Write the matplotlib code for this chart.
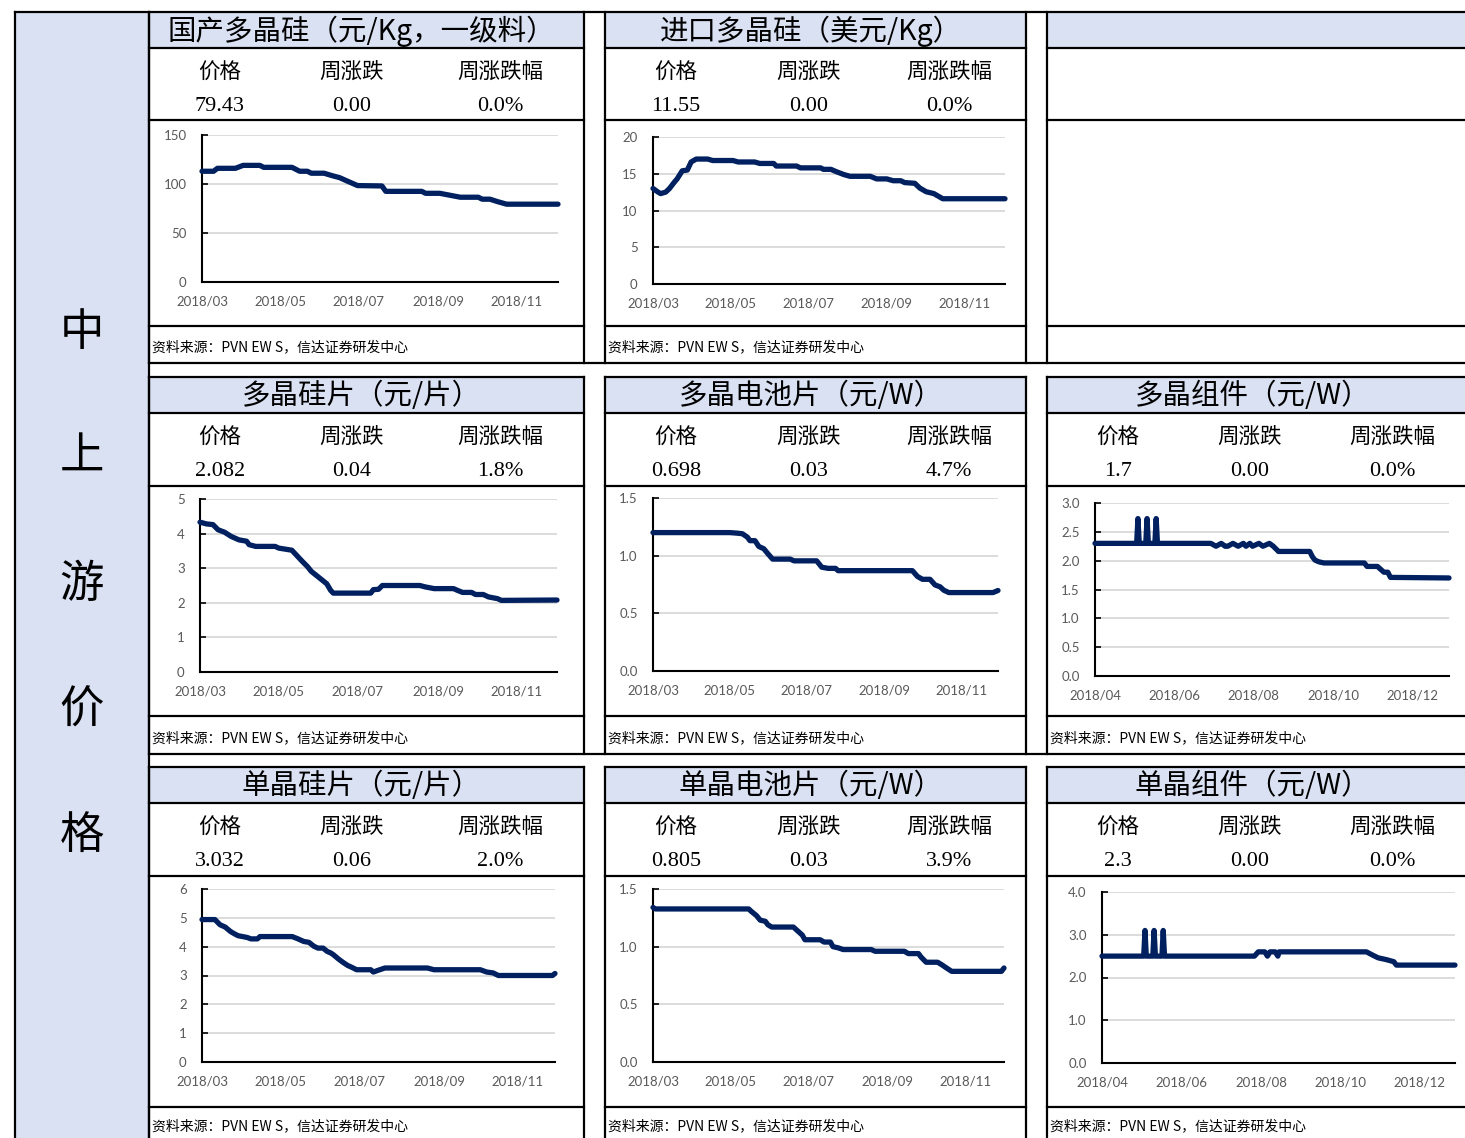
import matplotlib
matplotlib.use('Agg')
import matplotlib.pyplot as plt
import pandas as pd
from matplotlib.patches import Rectangle

plt.rcParams['font.family'] = ['Noto Sans CJK SC', 'DejaVu Sans']

# ---------------- data ----------------
side_chars = ['中', '上', '游', '价', '格']
header_labels = ['价格', '周涨跌', '周涨跌幅']
source_text = '资料来源：PVN EW S，信达证券研发中心'

titles = [['国产多晶硅（元/Kg，一级料）', '进口多晶硅（美元/Kg）', ''],
          ['多晶硅片（元/片）', '多晶电池片（元/W）', '多晶组件（元/W）'],
          ['单晶硅片（元/片）', '单晶电池片（元/W）', '单晶组件（元/W）']]
header_values = [[['79.43', '0.00', '0.0%'], ['11.55', '0.00', '0.0%'], None],
                 [['2.082', '0.04', '1.8%'], ['0.698', '0.03', '4.7%'], ['1.7', '0.00', '0.0%']],
                 [['3.032', '0.06', '2.0%'], ['0.805', '0.03', '3.9%'], ['2.3', '0.00', '0.0%']]]

xt_a = ['2018-03-01', '2018-05-01', '2018-07-01', '2018-09-01', '2018-11-01']
xl_a = ['2018/03', '2018/05', '2018/07', '2018/09', '2018/11']
xt_b = ['2018-04-01', '2018-06-01', '2018-08-01', '2018-10-01', '2018-12-01']
xl_b = ['2018/04', '2018/06', '2018/08', '2018/10', '2018/12']

A_dates = ['2018-03-01','2018-03-10','2018-03-13','2018-03-27','2018-04-02','2018-04-15','2018-04-18','2018-05-10',
           '2018-05-16','2018-05-22','2018-05-25','2018-06-04','2018-06-10','2018-06-16','2018-06-22','2018-06-30',
           '2018-07-19','2018-07-22','2018-08-19','2018-08-22','2018-09-02','2018-09-08','2018-09-18','2018-10-02',
           '2018-10-05','2018-10-11','2018-10-17','2018-10-24','2018-12-03']
A_vals = [113,113,116,116,119,119,117,117,113,113,111,111,108.6,106.5,103,98.4,98,92.5,92.5,90.5,
          90.5,89,86.5,86.5,84.5,84.5,82,79.4,79.4]

B_dates = ['2018-03-01','2018-03-05','2018-03-07','2018-03-11','2018-03-14','2018-03-18','2018-03-20','2018-03-24',
           '2018-03-28','2018-03-31','2018-04-04','2018-04-13','2018-04-17','2018-05-03','2018-05-07','2018-05-20',
           '2018-05-24','2018-06-04','2018-06-06','2018-06-22','2018-06-25','2018-07-11','2018-07-13','2018-07-19',
           '2018-07-23','2018-07-29','2018-08-03','2018-08-19','2018-08-24','2018-09-01','2018-09-06','2018-09-12',
           '2018-09-15','2018-09-23','2018-09-27','2018-10-02','2018-10-08','2018-10-15','2018-12-03']
B_vals = [13.0,12.5,12.3,12.5,13.0,13.9,14.3,15.4,15.5,16.6,17.0,17.0,16.8,16.8,16.6,16.6,16.4,16.4,16.05,16.05,
          15.8,15.8,15.6,15.6,15.3,14.9,14.65,14.65,14.3,14.3,14.05,14.05,13.8,13.7,13.05,12.55,12.3,11.6,11.6]

C_dates = ['2018-03-01','2018-03-06','2018-03-11','2018-03-15','2018-03-20','2018-03-25','2018-03-31','2018-04-06',
           '2018-04-08','2018-04-13','2018-04-28','2018-05-01','2018-05-11','2018-05-15','2018-05-19','2018-05-23',
           '2018-05-26','2018-05-31','2018-06-03','2018-06-07','2018-06-10','2018-06-12','2018-07-11','2018-07-13',
           '2018-07-17','2018-07-20','2018-08-18','2018-08-22','2018-08-29','2018-09-13','2018-09-16','2018-09-20',
           '2018-09-27','2018-09-30','2018-10-06','2018-10-10','2018-10-17','2018-10-20','2018-12-02']
C_vals = [4.33,4.28,4.26,4.11,4.04,3.92,3.82,3.78,3.68,3.63,3.63,3.58,3.52,3.36,3.2,3.05,2.91,2.76,2.67,2.55,
          2.36,2.28,2.28,2.38,2.39,2.5,2.5,2.46,2.41,2.41,2.36,2.30,2.30,2.24,2.24,2.17,2.12,2.07,2.08]

D_dates = ['2018-03-01','2018-05-01','2018-05-07','2018-05-11','2018-05-15','2018-05-17','2018-05-21','2018-05-24',
           '2018-05-28','2018-05-31','2018-06-04','2018-06-18','2018-06-21','2018-07-09','2018-07-13','2018-07-18',
           '2018-07-24','2018-07-26','2018-09-23','2018-09-27','2018-10-01','2018-10-07','2018-10-11','2018-10-15',
           '2018-10-18','2018-10-22','2018-11-26','2018-11-30']
D_vals = [1.20,1.20,1.195,1.19,1.16,1.13,1.13,1.08,1.06,1.02,0.97,0.97,0.955,0.955,0.90,0.89,0.89,0.87,0.87,0.82,
          0.795,0.795,0.746,0.73,0.70,0.68,0.68,0.698]

G_dates = ['2018-04-01','2018-05-03','2018-05-04','2018-05-05','2018-05-10','2018-05-11','2018-05-12','2018-05-17',
           '2018-05-18','2018-05-19','2018-06-29','2018-07-03','2018-07-07','2018-07-10','2018-07-12','2018-07-16',
           '2018-07-20','2018-07-24','2018-07-26','2018-07-29','2018-07-31','2018-08-05','2018-08-08','2018-08-13',
           '2018-08-16','2018-08-20','2018-09-13','2018-09-15','2018-09-17','2018-09-20','2018-09-24','2018-10-25',
           '2018-10-27','2018-11-04','2018-11-07','2018-11-09','2018-11-12','2018-11-14','2018-12-29']
G_vals = [2.3,2.3,2.73,2.3,2.3,2.73,2.3,2.3,2.73,2.3,2.3,2.25,2.3,2.25,2.25,2.3,2.25,2.3,2.25,2.3,
          2.25,2.3,2.25,2.3,2.25,2.16,2.16,2.07,2.01,1.98,1.96,1.96,1.90,1.90,1.84,1.80,1.80,1.71,1.70]

E_dates = ['2018-03-01','2018-03-11','2018-03-15','2018-03-19','2018-03-23','2018-03-26','2018-03-29','2018-04-05',
           '2018-04-08','2018-04-13','2018-04-15','2018-05-10','2018-05-14','2018-05-19','2018-05-23','2018-05-27',
           '2018-05-30','2018-06-03','2018-06-06','2018-06-09','2018-06-11','2018-06-15','2018-06-18','2018-06-22',
           '2018-06-25','2018-06-29','2018-07-10','2018-07-12','2018-07-15','2018-07-21','2018-08-23','2018-08-28',
           '2018-10-03','2018-10-08','2018-10-13','2018-10-17','2018-11-28','2018-11-30']
E_vals = [4.94,4.94,4.76,4.68,4.53,4.45,4.38,4.32,4.27,4.27,4.35,4.35,4.28,4.18,4.15,4.01,3.95,3.95,3.84,3.78,
          3.72,3.57,3.47,3.35,3.29,3.2,3.2,3.12,3.17,3.26,3.26,3.2,3.2,3.12,3.09,3.0,3.0,3.07]

F_dates = ['2018-03-01','2018-03-03','2018-05-15','2018-05-17','2018-05-21','2018-05-24','2018-05-28','2018-05-30',
           '2018-06-02','2018-06-19','2018-06-23','2018-06-26','2018-06-28','2018-07-10','2018-07-13','2018-07-18',
           '2018-07-20','2018-07-24','2018-07-28','2018-08-19','2018-08-22','2018-09-14','2018-09-17','2018-09-25',
           '2018-09-27','2018-10-01','2018-10-10','2018-10-13','2018-10-17','2018-10-21','2018-11-29','2018-12-01']
F_vals = [1.34,1.327,1.327,1.306,1.27,1.23,1.22,1.19,1.17,1.17,1.13,1.10,1.06,1.06,1.04,1.04,1.0,0.99,0.975,0.975,
          0.96,0.96,0.94,0.94,0.91,0.865,0.865,0.845,0.815,0.786,0.786,0.815]

H_dates = ['2018-04-01','2018-05-03','2018-05-04','2018-05-05','2018-05-10','2018-05-11','2018-05-12','2018-05-17',
           '2018-05-18','2018-05-19','2018-07-27','2018-07-30','2018-08-04','2018-08-06','2018-08-08','2018-08-12',
           '2018-08-14','2018-08-15','2018-10-21','2018-10-26','2018-10-30','2018-11-05','2018-11-11','2018-11-13',
           '2018-12-28']
H_vals = [2.5,2.5,3.1,2.5,2.5,3.1,2.5,2.5,3.1,2.5,2.5,2.6,2.6,2.5,2.6,2.6,2.5,2.6,2.6,2.52,
          2.46,2.42,2.37,2.29,2.29]

yt_A = [0, 50, 100, 150];           yl_A = ['0', '50', '100', '150']
yt_B = [0, 5, 10, 15, 20];          yl_B = ['0', '5', '10', '15', '20']
yt_C = [0, 1, 2, 3, 4, 5];          yl_C = ['0', '1', '2', '3', '4', '5']
yt_D = [0, 0.5, 1.0, 1.5];          yl_D = ['0.0', '0.5', '1.0', '1.5']
yt_G = [0, 0.5, 1.0, 1.5, 2.0, 2.5, 3.0]; yl_G = ['0.0', '0.5', '1.0', '1.5', '2.0', '2.5', '3.0']
yt_E = [0, 1, 2, 3, 4, 5, 6];       yl_E = ['0', '1', '2', '3', '4', '5', '6']
yt_F = [0, 0.5, 1.0, 1.5];          yl_F = ['0.0', '0.5', '1.0', '1.5']
yt_H = [0, 1.0, 2.0, 3.0, 4.0];     yl_H = ['0.0', '1.0', '2.0', '3.0', '4.0']

# ---------------- layout ----------------
W, H = 1465, 1138
fig = plt.figure(figsize=(W / 100, H / 100), dpi=100)
bg = fig.add_axes([0, 0, 1, 1])
bg.set_xlim(0, W); bg.set_ylim(H, 0); bg.axis('off')

BLUE = '#D9E1F2'
NAVY = '#002060'
LW = 1.6

def hl(y, x0, x1):
    bg.plot([x0, x1], [y, y], color='black', lw=LW, solid_capstyle='projecting', zorder=3)

def vl(x, y0, y1):
    bg.plot([x, x], [y0, y1], color='black', lw=LW, solid_capstyle='projecting', zorder=3)

def fill(x0, y0, x1, y1, c):
    bg.add_patch(Rectangle((x0, y0), x1 - x0, y1 - y0, fc=c, ec='none', zorder=0))

# left column
fill(15, 12, 149, H + 5, BLUE)
vl(15, 12, H + 5)
vl(149, 12, H + 5)
for ch, y in zip(side_chars, [332, 457, 584, 710, 835]):
    bg.text(82, y, ch, fontsize=32, ha='center', va='center')

cols = [(149, 584), (605, 1026), (1047, 1468)]
rows = [(12, 48, 120, 326, 363), (377, 413, 486, 716, 754), (767, 803, 876, 1107, 1150)]
label_dx = [[71, 203, 351], [71, 204, 344], [71, 203, 345]]

hl(12, 15, W + 2)
for ri, (t0, t1, h1, c1, s1) in enumerate(rows):
    hl(s1, 149, W + 2)
    for ci, (x0, x1) in enumerate(cols):
        fill(x0, t0, x1, t1, BLUE)
        if ri > 0:
            hl(t0, x0, x1)
        hl(t1, x0, x1); hl(h1, x0, x1); hl(c1, x0, x1)
        vl(x0, t0, s1); vl(x1, t0, s1)
        if titles[ri][ci]:
            bg.text((x0 + x1) / 2 - 5, (t0 + t1) / 2 + 1, titles[ri][ci], fontsize=20.5,
                    ha='center', va='center')
        hv = header_values[ri][ci]
        if hv is not None:
            for k in range(3):
                bg.text(x0 + label_dx[ci][k], t1 + 25, header_labels[k], fontsize=15.5,
                        ha='center', va='center')
                bg.text(x0 + label_dx[ci][k], t1 + 58, hv[k], fontsize=16,
                        family='Liberation Serif', ha='center', va='center')
            bg.text(x0 + 3, (c1 + s1) / 2 + 3 if ri < 2 else c1 + 19, source_text, fontsize=10,
                    ha='left', va='center')

charts = [
    (A_dates, A_vals, yt_A, yl_A, xt_a, xl_a, (202, 135, 558, 282)),
    (B_dates, B_vals, yt_B, yl_B, xt_a, xl_a, (653, 137, 1005, 284)),
    (C_dates, C_vals, yt_C, yl_C, xt_a, xl_a, (200, 499, 557, 672)),
    (D_dates, D_vals, yt_D, yl_D, xt_a, xl_a, (653, 498, 998, 671)),
    (G_dates, G_vals, yt_G, yl_G, xt_b, xl_b, (1095, 503, 1449, 676)),
    (E_dates, E_vals, yt_E, yl_E, xt_a, xl_a, (202, 889, 555, 1062)),
    (F_dates, F_vals, yt_F, yl_F, xt_a, xl_a, (653, 889, 1004, 1062)),
    (H_dates, H_vals, yt_H, yl_H, xt_b, xl_b, (1102, 892, 1455, 1063)),
]

for dts, vals, yt, yl, xt, xl, (px0, py0, px1, py1) in charts:
    ax = fig.add_axes([px0 / W, 1 - py1 / H, (px1 - px0) / W, (py1 - py0) / H])
    ax.set_facecolor('none')
    d = pd.to_datetime(dts)
    ax.plot(d, vals, color=NAVY, lw=3.8, solid_joinstyle='round', solid_capstyle='round',
            clip_on=False, zorder=5)
    ax.set_xlim(d[0], d[-1])
    ax.set_ylim(yt[0], yt[-1])
    ax.set_yticks(yt)
    ax.set_yticklabels(yl)
    ax.set_xticks(pd.to_datetime(xt))
    ax.set_xticklabels(xl)
    ax.yaxis.grid(True, color='#D9D9D9', lw=1.3)
    ax.set_axisbelow(True)
    for s in ['top', 'right']:
        ax.spines[s].set_visible(False)
    for s in ['left', 'bottom']:
        ax.spines[s].set_color('black')
        ax.spines[s].set_linewidth(1.5)
    ax.tick_params(axis='y', direction='in', length=4, width=1.2, color='black', pad=11,
                   labelsize=9.5, labelcolor='#595959', labelfontfamily='Lato')
    ax.tick_params(axis='x', length=0, pad=10, labelsize=9.5, labelcolor='#595959',
                   labelfontfamily='Lato')

fig.savefig('out.png', dpi=100)
